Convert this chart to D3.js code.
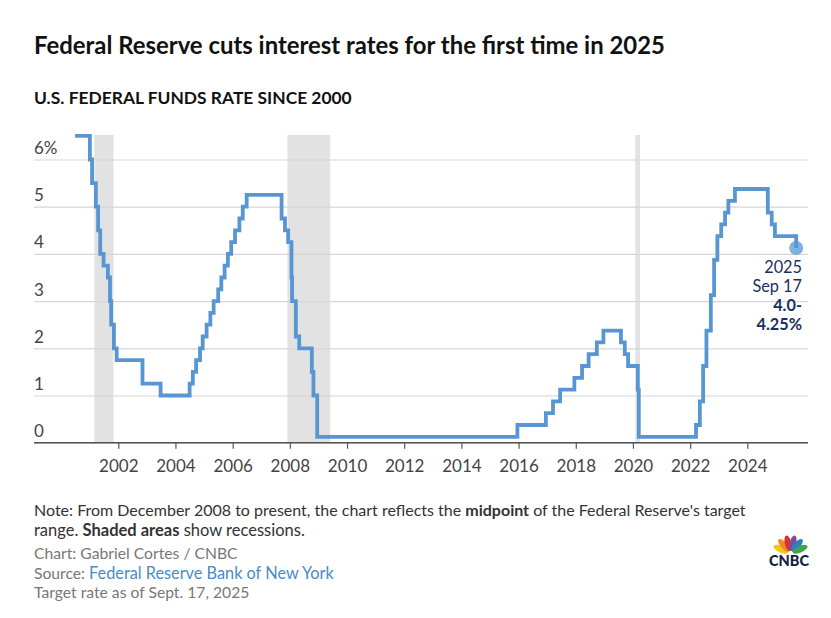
<!DOCTYPE html>
<html>
<head>
<meta charset="utf-8">
<script src="https://cdn.jsdelivr.net/npm/d3@7"></script>
<style>
  html, body { margin: 0; padding: 0; background: #fff; }
  svg { display: block; }
  text { font-family: Lato, "Open Sans", sans-serif; }
  .axis text { font-size: 17px; fill: #444; }
  .note { font-size: 16px; fill: #333; }
  .credit { font-size: 15.7px; fill: #777; }
</style>
</head>
<body>
<svg id="chart" width="831" height="618"></svg>
<script>
const rateDates = [
  "2000-06-28","2001-01-03","2001-01-31","2001-03-20","2001-04-18","2001-05-15","2001-06-27","2001-08-21",
  "2001-09-17","2001-10-02","2001-11-06","2001-12-11","2002-11-06","2003-06-25","2004-06-30","2004-08-10",
  "2004-09-21","2004-11-10","2004-12-14","2005-02-02","2005-03-22","2005-05-03","2005-06-30","2005-08-09",
  "2005-09-20","2005-11-01","2005-12-13","2006-01-31","2006-03-28","2006-05-10","2006-06-29","2007-09-18",
  "2007-10-31","2007-12-11","2008-01-22","2008-01-30","2008-03-18","2008-04-30","2008-10-08","2008-10-29",
  "2008-12-16","2015-12-17","2016-12-15","2017-03-16","2017-06-15","2017-12-14","2018-03-22","2018-06-14",
  "2018-09-27","2018-12-20","2019-08-01","2019-09-19","2019-10-31","2020-03-03","2020-03-16","2022-03-17",
  "2022-05-05","2022-06-16","2022-07-28","2022-09-22","2022-11-03","2022-12-15","2023-02-02","2023-03-23",
  "2023-05-04","2023-07-27","2024-09-19","2024-11-08","2024-12-19","2025-09-17"
];
const rateValues = [
  6.5,6,5.5,5,4.5,4,3.75,3.5,
  3,2.5,2,1.75,1.25,1,1.25,1.5,
  1.75,2,2.25,2.5,2.75,3,3.25,3.5,
  3.75,4,4.25,4.5,4.75,5,5.25,4.75,
  4.5,4.25,3.5,3,2.25,2,1.5,1,
  0.125,0.375,0.625,0.875,1.125,1.375,1.625,1.875,
  2.125,2.375,2.125,1.875,1.625,1.125,0.125,0.375,
  0.875,1.625,2.375,3.125,3.875,4.375,4.625,4.875,
  5.125,5.375,4.875,4.625,4.375,4.125
];
const recessionStarts = ["2001-03-01","2007-12-01","2020-02-01"];
const recessionEnds = ["2001-11-01","2009-06-01","2020-04-01"];
const yTicks = [0,1,2,3,4,5,6];
const xTickYears = [2002,2004,2006,2008,2010,2012,2014,2016,2018,2020,2022,2024];
const noteLines = [
  [["Note: From December 2008 to present, the chart reflects the ",400],["midpoint",700],[" of the Federal Reserve's target",400]],
  [["range. ",400],["Shaded areas",700],[" show recessions.",400]]
];
const featherColors = ["#f5c518","#f08a24","#d9342b","#7b4f9e","#2f7fc1","#3fa548"];

const svg = d3.select("#chart");
const parseDate = d3.utcParse("%Y-%m-%d");
const rates = rateDates.map((d,i) => ({date: parseDate(d), value: rateValues[i]}));

const plotLeft = 34, plotRight = 808, plotTop = 135, plotBottom = 442.7;

const x = d3.scaleUtc()
  .domain([new Date(Date.UTC(2002,0,1)), new Date(Date.UTC(2024,0,1))])
  .range([118.3, 747.3]);
const y = d3.scaleLinear().domain([0,6]).range([plotBottom, 159.5]);

// Title and subtitle
svg.append("text").attr("x",plotLeft).attr("y",54)
  .attr("font-size",23.9).attr("font-weight",700).attr("fill","#111")
  .text("Federal Reserve cuts interest rates for the first time in 2025");
svg.append("text").attr("x",plotLeft).attr("y",104)
  .attr("font-size",17.4).attr("font-weight",700).attr("fill","#111")
  .text("U.S. FEDERAL FUNDS RATE SINCE 2000");

// Recession bands
svg.append("g").selectAll("rect")
  .data(recessionStarts.map((s,i) => [parseDate(s), parseDate(recessionEnds[i])]))
  .join("rect")
  .attr("x", d => x(d[0]))
  .attr("width", d => x(d[1]) - x(d[0]))
  .attr("y", plotTop)
  .attr("height", plotBottom - plotTop)
  .attr("fill", "#e2e2e2");

// Y axis with gridlines
const yAxis = svg.append("g").attr("class","axis")
  .attr("transform",`translate(${plotLeft},0)`)
  .call(d3.axisRight(y).tickValues(yTicks).tickSize(plotRight-plotLeft)
    .tickFormat(d => d === 6 ? "6%" : d));
yAxis.select(".domain").remove();
yAxis.selectAll("line").attr("stroke","#d6d6d6").attr("stroke-width",1.2);
yAxis.selectAll("text").attr("x",0).attr("dy",-6).attr("text-anchor","start");

// X axis
const xAxis = svg.append("g").attr("class","axis")
  .attr("transform",`translate(0,${plotBottom})`)
  .call(d3.axisBottom(x)
    .tickValues(xTickYears.map(v => new Date(Date.UTC(v,0,1))))
    .tickSize(6).tickPadding(11).tickSizeOuter(0)
    .tickFormat(d3.utcFormat("%Y")));
xAxis.select(".domain").attr("d",`M${plotLeft},0H${plotRight}`).attr("stroke","#555").attr("stroke-width",1.5);
xAxis.selectAll("line").attr("stroke","#555").attr("stroke-width",1.2);

// Rate line
const line = d3.line().x(d => x(d.date)).y(d => y(d.value)).curve(d3.curveStepAfter);
svg.append("path").datum(rates)
  .attr("d",line)
  .attr("fill","none")
  .attr("stroke","#5896d3")
  .attr("stroke-width",3.8)
  .attr("stroke-linejoin","miter");

// End point
const last = rates[rates.length-1];
svg.append("circle")
  .attr("cx",x(last.date)).attr("cy",y(last.value)).attr("r",7)
  .attr("fill","#5896d3").attr("fill-opacity",0.75);

// End label
const endLabels = [["2025",400,273],["Sep 17",400,292],["4.0-",700,311],["4.25%",700,330]];
svg.append("g").selectAll("text").data(endLabels).join("text")
  .attr("x",802).attr("y",d => d[2])
  .attr("text-anchor","end")
  .attr("font-size",16.3).attr("font-weight",d => d[1]).attr("fill","#1c2f63")
  .text(d => d[0]);

// Note
noteLines.forEach((parts,i) => {
  const t = svg.append("text").attr("class","note").attr("x",plotLeft).attr("y",516 + i*20)
    .attr("style", i ? "font-size:16.5px" : null);
  parts.forEach(p => t.append("tspan").attr("font-weight",p[1]).text(p[0]));
});

// Credits
svg.append("text").attr("class","credit").attr("x",plotLeft).attr("y",559).text("Chart: Gabriel Cortes / CNBC");
const source = svg.append("text").attr("class","credit").attr("x",plotLeft).attr("y",579);
source.append("tspan").text("Source: ");
source.append("tspan").attr("fill","#4a8cc7").attr("font-size",16.3).text("Federal Reserve Bank of New York");
svg.append("text").attr("class","credit").attr("x",plotLeft).attr("y",598).text("Target rate as of Sept. 17, 2025");

// CNBC logo
const logo = svg.append("g").attr("transform","translate(790.5,553.5)");
logo.selectAll("ellipse").data(featherColors).join("ellipse")
  .attr("cx",0).attr("cy",-10.5).attr("rx",3.3).attr("ry",8)
  .attr("fill",d => d)
  .attr("transform",(d,i) => `rotate(${-66 + i*26.4})`);
svg.append("text").attr("x",789).attr("y",566).attr("text-anchor","middle")
  .attr("font-size",14.5).attr("font-weight",900).attr("fill","#14213d").text("CNBC");
</script>
</body>
</html>
